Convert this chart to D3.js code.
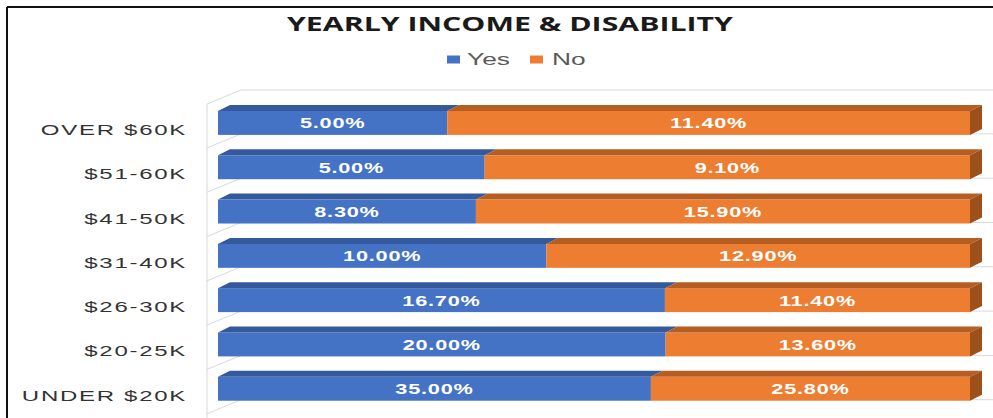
<!DOCTYPE html>
<html>
<head>
<meta charset="utf-8">
<script src="https://cdn.jsdelivr.net/npm/d3@7"></script>
<style>
  html, body { margin: 0; padding: 0; background: #fff; }
  svg { display: block; }
</style>
</head>
<body>
<svg id="chart" width="993" height="418"></svg>
<script>
// Income brackets, top to bottom
const categories = ["OVER $60K", "$51-60K", "$41-50K", "$31-40K", "$26-30K", "$20-25K", "UNDER $20K"];
// Share reporting a disability (Yes) and not (No), in percent
const yesValues = [5.0, 5.0, 8.3, 10.0, 16.7, 20.0, 35.0];
const noValues = [11.4, 9.1, 15.9, 12.9, 11.4, 13.6, 25.8];
const seriesNames = ["Yes", "No"];
const chartTitle = "YEARLY INCOME & DISABILITY";

const W = 993, H = 418;
const SX = 1.55;              // horizontal stretch of the whole drawing
const VW = W / SX;            // drawing width before stretch

const colors = {
  Yes: { front: "#4472C4", top: "#34599C", side: "#2E4F8A" },
  No:  { front: "#ED7D31", top: "#B65E22", side: "#9E501B" }
};

const rows = categories.map((c, i) => ({ category: c, Yes: yesValues[i], No: noValues[i] }));
const stacked = d3.stack().keys(seriesNames).offset(d3.stackOffsetExpand)(rows);

const svg = d3.select("#chart");

// frame lines
svg.append("line").attr("x1", 7).attr("x2", W).attr("y1", 7).attr("y2", 7)
  .attr("stroke", "#111").attr("stroke-width", 2);
svg.append("line").attr("x1", 7).attr("x2", 7).attr("y1", 7).attr("y2", H)
  .attr("stroke", "#111").attr("stroke-width", 2);

const g = svg.append("g").attr("transform", `scale(${SX},1)`);

const x = d3.scaleLinear().domain([0, 1]).range([218 / SX, 970 / SX]);
const y = d3.scaleBand().domain(categories).range([100.8, 410.9])
  .paddingInner(0.46).paddingOuter(0.23);

const dx = 12 / SX, dy = -6;          // bar depth
const wallX0 = 207 / SX, wallX1 = 241 / SX, wallDy = -14;

// walls and category dividers
const grid = g.append("g").attr("fill", "none").attr("stroke", "#D9D9D9")
  .attr("stroke-width", 1);
const topBack = 90;
grid.append("path").attr("vector-effect", "non-scaling-stroke")
  .attr("d", `M${wallX0},${topBack - wallDy} L${wallX1},${topBack} L${VW},${topBack}`);
grid.append("path").attr("vector-effect", "non-scaling-stroke")
  .attr("d", `M${wallX0},${topBack - wallDy} L${wallX0},${H}`);
categories.forEach(c => {
  const yb = y(c) + y.bandwidth() - 1;
  grid.append("path").attr("vector-effect", "non-scaling-stroke")
    .attr("d", `M${wallX0},${yb - wallDy} L${wallX1},${yb} L${VW},${yb}`);
});

// bars
const bars = g.append("g");
stacked.forEach((layer, li) => {
  const key = layer.key;
  const col = colors[key];
  const lg = bars.append("g");
  layer.forEach((d, i) => {
    const cat = categories[i];
    const x0 = x(d[0]), x1 = x(d[1]);
    const y0 = y(cat), y1 = y0 + y.bandwidth();
    lg.append("rect").attr("x", x0).attr("y", y0)
      .attr("width", x1 - x0).attr("height", y1 - y0).attr("fill", col.front);
    lg.append("path").attr("fill", col.top)
      .attr("d", `M${x0},${y0} L${x1},${y0} L${x1 + dx},${y0 + dy} L${x0 + dx},${y0 + dy}Z`);
    if (li === stacked.length - 1) {
      lg.append("path").attr("fill", col.side)
        .attr("d", `M${x1},${y0} L${x1 + dx},${y0 + dy} L${x1 + dx},${y1 + dy} L${x1},${y1}Z`);
    }
  });
});

// value labels
const fmt = v => d3.format(".2f")(v) + "%";
stacked.forEach(layer => {
  layer.forEach((d, i) => {
    const cat = categories[i];
    g.append("text")
      .attr("x", (x(d[0]) + x(d[1])) / 2)
      .attr("y", y(cat) + y.bandwidth() / 2 + 5.5)
      .attr("text-anchor", "middle")
      .attr("font-family", "'Liberation Sans', Arial, sans-serif")
      .attr("font-weight", "bold")
      .attr("font-size", 14)
      .attr("letter-spacing", 0.5)
      .attr("fill", "#fff")
      .text(fmt(d.data[layer.key]));
  });
});

// category axis labels
const yAxis = d3.axisLeft(y).tickSize(0).tickPadding(0);
const ax = g.append("g").attr("transform", `translate(${187 / SX},0)`).call(yAxis);
ax.select(".domain").remove();
ax.selectAll("text")
  .attr("font-family", "'Liberation Sans', Arial, sans-serif")
  .attr("font-size", 15.5)
  .attr("letter-spacing", 1.1)
  .attr("fill", "#333")
  .attr("dy", null)
  .attr("y", y.bandwidth() / 2);

// title
g.append("text")
  .attr("x", 510 / SX).attr("y", 31)
  .attr("text-anchor", "middle")
  .attr("font-family", "'Open Sans', sans-serif")
  .attr("font-weight", "bold")
  .attr("font-size", 19)
  .attr("fill", "#1a1a1a")
  .attr("textLength", 446 / SX)
  .attr("lengthAdjust", "spacingAndGlyphs")
  .text(chartTitle);

// legend
const legendItems = [
  { name: "Yes", sx: 447, tx: 467 },
  { name: "No", sx: 530, tx: 552 }
];
const legend = g.append("g");
legendItems.forEach(it => {
  legend.append("rect").attr("x", it.sx / SX).attr("y", 55.5)
    .attr("width", 13 / SX).attr("height", 8).attr("fill", colors[it.name].front);
  legend.append("text").attr("x", it.tx / SX).attr("y", 65)
    .attr("font-family", "'Liberation Sans', Arial, sans-serif")
    .attr("font-size", 17).attr("fill", "#595959")
    .text(it.name);
});
</script>
</body>
</html>
